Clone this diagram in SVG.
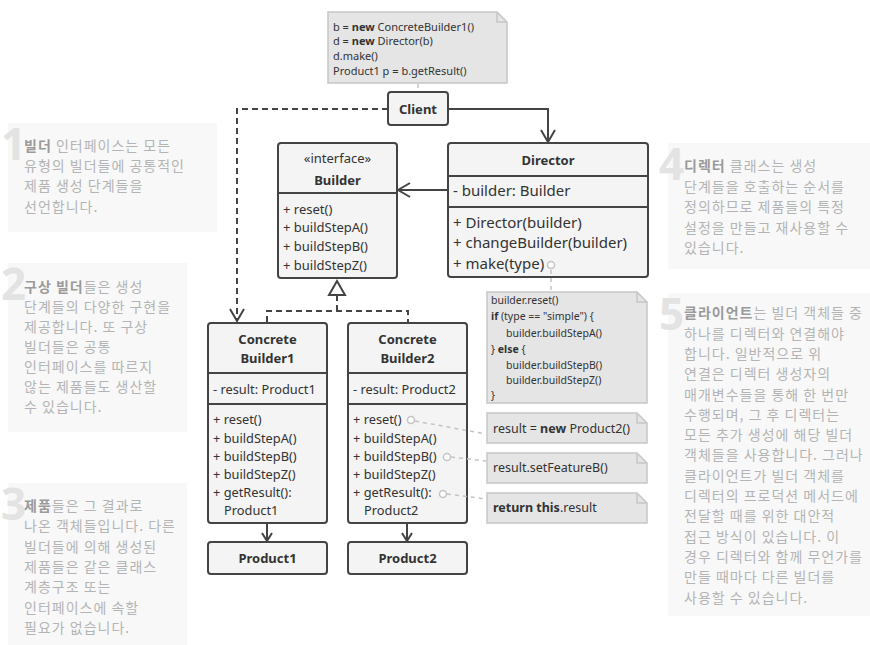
<svg xmlns="http://www.w3.org/2000/svg" width="870" height="645" viewBox="0 0 870 645">
<style>
.box{fill:#f4f4f4;stroke:#444;stroke-width:2}
.sep{stroke:#444;stroke-width:2}
.t{font-family:"Noto Sans","Liberation Sans",sans-serif;fill:#333;font-size:13px}
.b{font-weight:bold}
.tm{font-size:12.8px}
.td{font-size:15px}
.note{fill:#e5e5e5;stroke:#c6c6c6;stroke-width:1.5}
.fold{fill:none;stroke:#c6c6c6;stroke-width:1.5}
.nt{font-family:"Noto Sans","Liberation Sans",sans-serif;fill:#333;font-size:11px}
.ct{font-size:10.5px}
.rt{font-size:12.5px}
.panel{fill:#f8f8f8}
.num{font-family:"Noto Sans","Liberation Sans",sans-serif;font-weight:bold;font-size:44px;fill:#e3e3e3}
.kt{font-family:"Noto Sans CJK KR","Noto Sans",sans-serif;font-size:14px;letter-spacing:1px;fill:#b4b4b4}
.kb{font-weight:bold;fill:#9a9a9a}
.ln{fill:none;stroke:#444;stroke-width:2}
.dash{stroke-dasharray:6 4}
.dot{fill:none;stroke:#c4c4c4;stroke-width:1.5;stroke-dasharray:4 4}
.circ{fill:#fff;stroke:#c4c4c4;stroke-width:1.5}
</style>
<defs>
<marker id="open" viewBox="0 0 14 16" refX="13" refY="8" markerWidth="14" markerHeight="16" markerUnits="userSpaceOnUse" orient="auto">
<path d="M1,1 L13,8 L1,15" fill="none" stroke="#444" stroke-width="2"/>
</marker>
<marker id="small" viewBox="0 0 10 12" refX="9" refY="6" markerWidth="10" markerHeight="12" markerUnits="userSpaceOnUse" orient="auto">
<path d="M1,1 L9,6 L1,11" fill="none" stroke="#444" stroke-width="2"/>
</marker>
</defs>

<g id="panels">
<g id="panel1">
<rect class="panel" x="8" y="123" width="209" height="109"/>
<text class="num" x="1" y="160">1</text>
<text class="kt" x="24"><tspan x="24" y="151"><tspan class="kb">빌더</tspan> 인터페이스는 모든</tspan><tspan x="24" y="171">유형의 빌더들에 공통적인</tspan><tspan x="24" y="191">제품 생성 단계들을</tspan><tspan x="24" y="212">선언합니다.</tspan></text>
</g>
<g id="panel2">
<rect class="panel" x="8" y="263" width="179" height="169"/>
<text class="num" x="1" y="300">2</text>
<text class="kt"><tspan x="24" y="292"><tspan class="kb">구상 빌더</tspan>들은 생성</tspan><tspan x="24" y="312">단계들의 다양한 구현을</tspan><tspan x="24" y="332">제공합니다. 또 구상</tspan><tspan x="24" y="352">빌더들은 공통</tspan><tspan x="24" y="372">인터페이스를 따르지</tspan><tspan x="24" y="392">않는 제품들도 생산할</tspan><tspan x="24" y="412">수 있습니다.</tspan></text>
</g>
<g id="panel3">
<rect class="panel" x="8" y="483" width="179" height="162"/>
<text class="num" x="1" y="520">3</text>
<text class="kt"><tspan x="24" y="511"><tspan class="kb">제품</tspan>들은 그 결과로</tspan><tspan x="24" y="531">나온 객체들입니다. 다른</tspan><tspan x="24" y="552">빌더들에 의해 생성된</tspan><tspan x="24" y="572">제품들은 같은 클래스</tspan><tspan x="24" y="592">계층구조 또는</tspan><tspan x="24" y="613">인터페이스에 속할</tspan><tspan x="24" y="633">필요가 없습니다.</tspan></text>
</g>
<g id="panel4">
<rect class="panel" x="668" y="143" width="202" height="126"/>
<text class="num" x="659" y="180">4</text>
<text class="kt"><tspan x="684" y="171"><tspan class="kb">디렉터</tspan> 클래스는 생성</tspan><tspan x="684" y="192">단계들을 호출하는 순서를</tspan><tspan x="684" y="212">정의하므로 제품들의 특정</tspan><tspan x="684" y="233">설정을 만들고 재사용할 수</tspan><tspan x="684" y="253">있습니다.</tspan></text>
</g>
<g id="panel5">
<rect class="panel" x="668" y="293" width="202" height="323"/>
<text class="num" x="659" y="330">5</text>
<text class="kt"><tspan x="684" y="318"><tspan class="kb">클라이언트</tspan>는 빌더 객체들 중</tspan><tspan x="684" y="339">하나를 디렉터와 연결해야</tspan><tspan x="684" y="359">합니다. 일반적으로 위</tspan><tspan x="684" y="379">연결은 디렉터 생성자의</tspan><tspan x="684" y="400">매개변수들을 통해 한 번만</tspan><tspan x="684" y="420">수행되며, 그 후 디렉터는</tspan><tspan x="684" y="440">모든 추가 생성에 해당 빌더</tspan><tspan x="684" y="460">객체들을 사용합니다. 그러나</tspan><tspan x="684" y="481">클라이언트가 빌더 객체를</tspan><tspan x="684" y="501">디렉터의 프로덕션 메서드에</tspan><tspan x="684" y="521">전달할 때를 위한 대안적</tspan><tspan x="684" y="542">접근 방식이 있습니다. 이</tspan><tspan x="684" y="562">경우 디렉터와 함께 무언가를</tspan><tspan x="684" y="582">만들 때마다 다른 빌더를</tspan><tspan x="684" y="603">사용할 수 있습니다.</tspan></text>
</g>
</g>

<g id="note-client">
<path class="note" d="M328,12 H497 L507,22 V83 H328 Z"/>
<path class="fold" d="M497,12 V22 H507"/>
<text class="nt"><tspan x="333" y="30.5">b = <tspan class="b">new</tspan> ConcreteBuilder1()</tspan><tspan x="333" y="45">d = <tspan class="b">new</tspan> Director(b)</tspan><tspan x="333" y="60">d.make()</tspan><tspan x="333" y="74.5">Product1 p = b.getResult()</tspan></text>
</g>

<g id="client">
<rect class="box" x="388" y="92" width="60" height="33" rx="3"/>
<text class="t b" x="418" y="114" text-anchor="middle" font-size="14.5">Client</text>
</g>

<g id="director">
<rect class="box" x="448" y="143" width="200" height="134" rx="3"/>
<line class="sep" x1="448" y1="176" x2="648" y2="176"/>
<line class="sep" x1="448" y1="207" x2="648" y2="207"/>
<text class="t b" x="548" y="164.5" text-anchor="middle" font-size="15">Director</text>
<text class="t td" x="453" y="195.5">- builder: Builder</text>
<text class="t td"><tspan x="453" y="227.5">+ Director(builder)</tspan><tspan x="453" y="247.5">+ changeBuilder(builder)</tspan><tspan x="453" y="268.5">+ make(type)</tspan></text>
</g>

<g id="builder">
<rect class="box" x="278" y="143" width="119" height="135" rx="3"/>
<line class="sep" x1="278" y1="193" x2="397" y2="193"/>
<text class="t" x="337.5" y="163" text-anchor="middle" font-size="14">«interface»</text>
<text class="t b" x="337.5" y="185" text-anchor="middle" font-size="14.5">Builder</text>
<text class="t"><tspan x="283" y="213.5">+ reset()</tspan><tspan x="283" y="232">+ buildStepA()</tspan><tspan x="283" y="250.5">+ buildStepB()</tspan><tspan x="283" y="269.5">+ buildStepZ()</tspan></text>
</g>

<g id="concrete-builder1">
<rect class="box" x="208" y="323" width="119" height="200" rx="3"/>
<line class="sep" x1="208" y1="373" x2="327" y2="373"/>
<line class="sep" x1="208" y1="404" x2="327" y2="404"/>
<text class="t b" x="267.5" y="344" text-anchor="middle" font-size="14.5">Concrete</text>
<text class="t b" x="267.5" y="363" text-anchor="middle" font-size="14.5">Builder1</text>
<text class="t tm" x="213" y="393.5">- result: Product1</text>
<text class="t tm"><tspan x="213" y="423.5">+ reset()</tspan><tspan x="213" y="442.5">+ buildStepA()</tspan><tspan x="213" y="461">+ buildStepB()</tspan><tspan x="213" y="479">+ buildStepZ()</tspan><tspan x="213" y="497">+ getResult():</tspan><tspan x="224" y="515">Product1</tspan></text>
</g>

<g id="concrete-builder2">
<rect class="box" x="348" y="323" width="119" height="200" rx="3"/>
<line class="sep" x1="348" y1="373" x2="467" y2="373"/>
<line class="sep" x1="348" y1="404" x2="467" y2="404"/>
<text class="t b" x="407.5" y="344" text-anchor="middle" font-size="14.5">Concrete</text>
<text class="t b" x="407.5" y="363" text-anchor="middle" font-size="14.5">Builder2</text>
<text class="t tm" x="353" y="393.5">- result: Product2</text>
<text class="t tm"><tspan x="353" y="423.5">+ reset()</tspan><tspan x="353" y="442.5">+ buildStepA()</tspan><tspan x="353" y="461">+ buildStepB()</tspan><tspan x="353" y="479">+ buildStepZ()</tspan><tspan x="353" y="497">+ getResult():</tspan><tspan x="364" y="515">Product2</tspan></text>
</g>

<g id="product1">
<rect class="box" x="208" y="542" width="119" height="32" rx="3"/>
<text class="t b" x="267.5" y="563" text-anchor="middle" font-size="14.5">Product1</text>
</g>

<g id="product2">
<rect class="box" x="348" y="542" width="119" height="32" rx="3"/>
<text class="t b" x="407.5" y="563" text-anchor="middle" font-size="14.5">Product2</text>
</g>

<g id="note-make">
<path class="note" d="M487,292 H637 L647,302 V403 H487 Z"/>
<path class="fold" d="M637,292 V302 H647"/>
<text class="nt ct"><tspan x="491" y="304">builder.reset()</tspan><tspan x="491" y="320"><tspan class="b">if</tspan> (type == "simple") {</tspan><tspan x="506" y="337">builder.buildStepA()</tspan><tspan x="491" y="353">} <tspan class="b">else</tspan> {</tspan><tspan x="506" y="369">builder.buildStepB()</tspan><tspan x="506" y="384">builder.buildStepZ()</tspan><tspan x="491" y="399">}</tspan></text>
</g>

<g id="note-reset">
<path class="note" d="M487,413 H637 L647,423 V443 H487 Z"/>
<path class="fold" d="M637,413 V423 H647"/>
<text class="nt rt" x="493" y="433">result = <tspan class="b">new</tspan> Product2()</text>
</g>

<g id="note-stepb">
<path class="note" d="M487,453 H637 L647,463 V483 H487 Z"/>
<path class="fold" d="M637,453 V463 H647"/>
<text class="nt rt" x="493" y="472">result.setFeatureB()</text>
</g>

<g id="note-result">
<path class="note" d="M487,493 H637 L647,503 V523 H487 Z"/>
<path class="fold" d="M637,493 V503 H647"/>
<text class="nt rt" x="493" y="512"><tspan class="b">return this</tspan>.result</text>
</g>

<g id="connectors">
<path class="ln" d="M448,109 H548 V142" marker-end="url(#open)"/>
<path class="ln dash" d="M388,109 H237 V321" marker-end="url(#open)"/>
<path class="ln" d="M448,190 H398" marker-end="url(#open)"/>
<path class="ln dash" d="M267,322 V311 H408 V322 M337,311 V295"/>
<path d="M337,281 L329,295 L345,295 Z" fill="#fff" stroke="#444" stroke-width="2"/>
<path class="ln" d="M267,524 V541" marker-end="url(#small)"/>
<path class="ln" d="M407,524 V541" marker-end="url(#small)"/>
<path class="dot" d="M418,84 V91"/>
<path class="dot" d="M551,270 V291"/>
<path class="dot" d="M415,421 L486,434"/>
<path class="dot" d="M451,457 L486,461"/>
<path class="dot" d="M447,494 L486,499"/>
<circle class="circ" cx="551" cy="265" r="3.5"/>
<circle class="circ" cx="411" cy="420" r="3.5"/>
<circle class="circ" cx="447" cy="457" r="3.5"/>
<circle class="circ" cx="443" cy="494" r="3.5"/>
</g>
</svg>
